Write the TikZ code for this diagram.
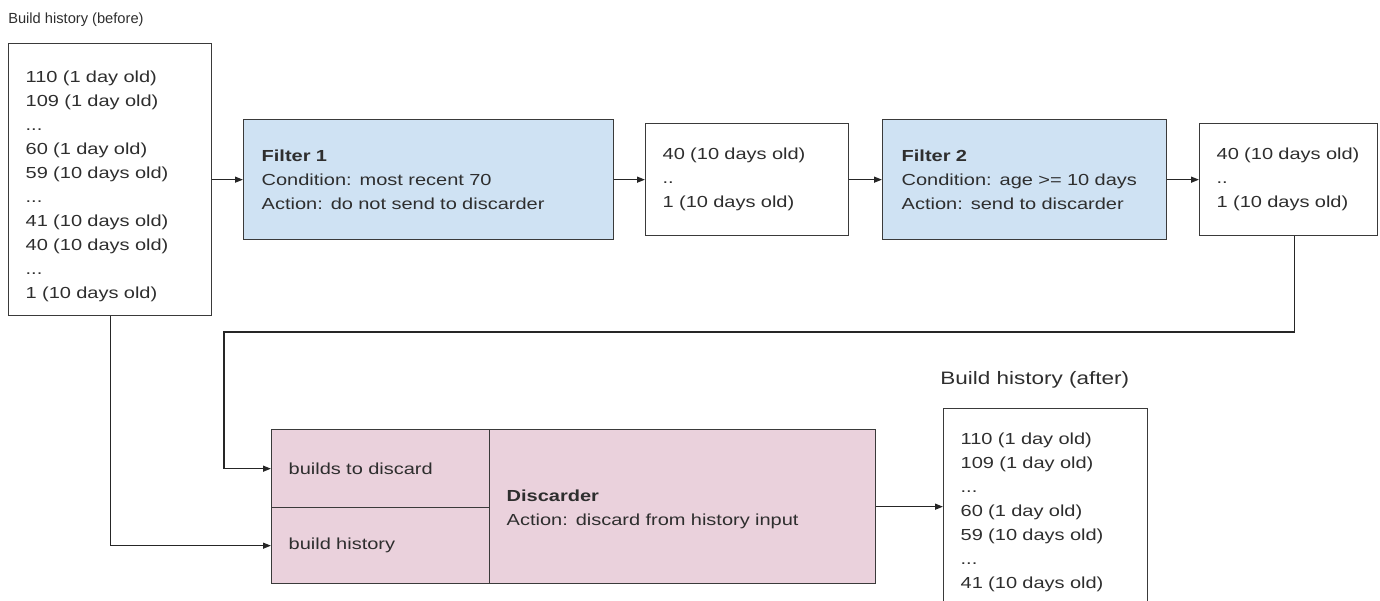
\documentclass[tikz,border=0pt]{standalone}
\usepackage{fontspec}
\setmainfont{Liberation Sans}[FakeStretch=1.25]
\newfontfamily\plainfont{Liberation Sans}
\usetikzlibrary{arrows.meta}
\definecolor{filterblue}{HTML}{CFE2F3}
\definecolor{discpink}{HTML}{EAD1DC}
\definecolor{edge}{HTML}{3A3A3A}
\definecolor{txt}{HTML}{2E2E2E}
\tikzset{
  box/.style={draw=edge, line width=1pt, anchor=north west, align=left,
    inner ysep=0pt, text=txt, font=\fontsize{12pt}{18pt}\selectfont},
  filterbox/.style={box, fill=filterblue},
  discbox/.style={box, fill=discpink},
  conn/.style={draw=black!85, line width=0.9pt, -{Triangle[length=6pt,width=4.5pt]}},
  lbl/.style={anchor=west, inner sep=0pt, text=txt}
}
\begin{document}
\begin{tikzpicture}[x=0.75pt, y=-0.75pt]
\useasboundingbox (0,0) rectangle (1380,600);
\clip (0,0) rectangle (1380,600);

\node[lbl, font=\plainfont\fontsize{11pt}{13pt}\selectfont] (lblbefore) at (8,20) {Build history (before)};

\node[box, text width=126.75pt, inner xsep=12.75pt, minimum height=204pt] (before) at (8,43)
 {\rule{0pt}{18pt}110 (1 day old)\\109 (1 day old)\\...\\60 (1 day old)\\59 (10 days old)\\...\\41 (10 days old)\\40 (10 days old)\\...\\1 (10 days old)};

\node[filterbox, text width=250.5pt, inner xsep=13.5pt, minimum height=90pt] (filter1) at (243,119)
 {\textbf{Filter 1}\\Condition: most recent 70\\Action: do not send to discarder};

\node[box, text width=126.75pt, inner xsep=12.75pt, minimum height=84pt] (mid) at (645,123)
 {40 (10 days old)\\..\\1 (10 days old)};

\node[filterbox, text width=184.5pt, inner xsep=14.25pt, minimum height=90pt] (filter2) at (882,119)
 {\textbf{Filter 2}\\Condition: age >= 10 days\\Action: send to discarder};

\node[box, text width=108pt, inner xsep=12.75pt, minimum height=84pt] (right) at (1199,123)
 {40 (10 days old)\\..\\1 (10 days old)};

\node[discbox, text width=138pt, inner xsep=12.75pt, minimum height=58.5pt] (btd) at (271,429)
 {builds to discard};
\node[discbox, text width=138pt, inner xsep=12.75pt, minimum height=57pt] (bh) at (271,507)
 {build history};
\node[discbox, text width=264pt, inner xsep=12.75pt, minimum height=115.5pt] (disc) at (489,429)
 {\rule{0pt}{13pt}\textbf{Discarder}\\Action: discard from history input};

\node[lbl, font=\fontsize{13.5pt}{16pt}\selectfont] (lblafter) at (940,380) {Build history (after)};

\node[box, text width=127.5pt, inner xsep=12.75pt, minimum height=148.5pt] (after) at (943,408)
 {\rule{0pt}{15pt}110 (1 day old)\\109 (1 day old)\\...\\60 (1 day old)\\59 (10 days old)\\...\\41 (10 days old)};

\coordinate (turn) at (224,332);

\draw[conn] (before.east) -- (filter1.west);
\draw[conn] (filter1.east) -- (mid.west);
\draw[conn] (mid.east) -- (filter2.west);
\draw[conn] (filter2.east) -- (right.west);
\draw[conn] ([xshift=4.5pt]right.south) |- (turn) |- (btd.west);
\draw[conn] (before.south) |- (bh.west);
\draw[conn] (disc.east) -- (disc.east -| after.west);
\end{tikzpicture}
\end{document}
